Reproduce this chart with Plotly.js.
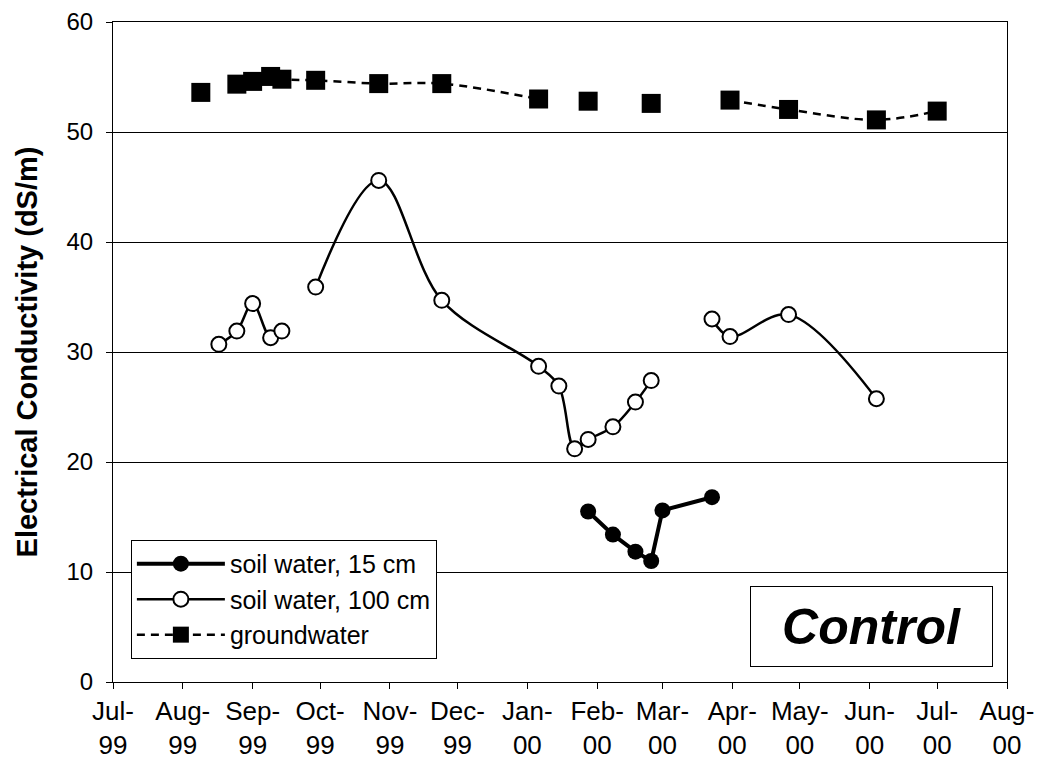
<!DOCTYPE html>
<html>
<head>
<meta charset="utf-8">
<script src="https://cdn.plot.ly/plotly-3.0.1.min.js"></script>
<style>
html,body{margin:0;padding:0;background:#fff;}
#chart{width:1043px;height:759px;}
</style>
</head>
<body>
<div id="chart"></div>
<script>
// ---- data ----
const monthTicks = ['1999-07-01','1999-08-01','1999-09-01','1999-10-01','1999-11-01','1999-12-01',
  '2000-01-01','2000-02-01','2000-03-01','2000-04-01','2000-05-01','2000-06-01','2000-07-01','2000-08-01'];
const monthLabels = ['Jul-<br>99','Aug-<br>99','Sep-<br>99','Oct-<br>99','Nov-<br>99','Dec-<br>99',
  'Jan-<br>00','Feb-<br>00','Mar-<br>00','Apr-<br>00','May-<br>00','Jun-<br>00','Jul-<br>00','Aug-<br>00'];
const yTicks = [0, 10, 20, 30, 40, 50, 60];

const seriesNames = ['soil water, 15 cm', 'soil water, 100 cm', 'groundwater'];

const soil15Dates  = ['2000-01-28','2000-02-08','2000-02-18','2000-02-25','2000-03-01','2000-03-23'];
const soil15Values = [15.5, 13.4, 11.85, 11.0, 15.6, 16.8];

// null = break in the line
const soil100Dates  = ['1999-08-17','1999-08-25','1999-09-01','1999-09-09','1999-09-14','1999-09-21',
  '1999-09-29','1999-10-27','1999-11-24','2000-01-06','2000-01-15','2000-01-22','2000-01-28',
  '2000-02-08','2000-02-18','2000-02-25','2000-03-01','2000-03-23','2000-03-31','2000-04-26','2000-06-04'];
const soil100Values = [30.7, 31.9, 34.4, 31.3, 31.9, null,
  35.9, 45.6, 34.7, 28.7, 26.9, 21.2, 22.05,
  23.2, 25.45, 27.4, null, 33.0, 31.4, 33.4, 25.75];

const groundDates  = ['1999-08-09','1999-08-17','1999-08-25','1999-09-01','1999-09-09','1999-09-14',
  '1999-09-29','1999-10-27','1999-11-24','2000-01-06','2000-01-15','2000-01-28','2000-02-08',
  '2000-02-25','2000-03-10','2000-03-31','2000-04-26','2000-06-04','2000-07-01'];
const groundValues = [53.6, null, 54.35, 54.6, 55.05, 54.8,
  54.7, 54.4, 54.4, 53.0, null, 52.8, null,
  52.6, null, 52.9, 52.05, 51.1, 51.9];

const yTitle = 'Electrical Conductivity (dS/m)';
const boxLabel = 'Control';

// ---- chart ----
const FONT = 'Liberation Sans, Arial, Helvetica, sans-serif';

const traces = [
  {
    x: soil15Dates, y: soil15Values, name: seriesNames[0],
    type: 'scatter', mode: 'lines+markers',
    line: {color: '#000', width: 4},
    marker: {symbol: 'circle', size: 16, color: '#000'}
  },
  {
    x: soil100Dates, y: soil100Values, name: seriesNames[1],
    type: 'scatter', mode: 'lines+markers', connectgaps: false,
    line: {color: '#000', width: 2.5, shape: 'spline', smoothing: 1},
    marker: {symbol: 'circle', size: 15, color: '#fff', line: {color: '#000', width: 2}}
  },
  {
    x: groundDates, y: groundValues, name: seriesNames[2],
    type: 'scatter', mode: 'lines+markers', connectgaps: false,
    line: {color: '#000', width: 2.5, dash: '8px,6px', shape: 'spline', smoothing: 1},
    marker: {symbol: 'square', size: 19, color: '#000'}
  }
];

const layout = {
  width: 1043, height: 759,
  margin: {l: 113, r: 36, t: 22, b: 77, pad: 0},
  paper_bgcolor: '#fff', plot_bgcolor: '#fff',
  font: {family: FONT, color: '#000', size: 24},
  showlegend: true,
  xaxis: {
    type: 'date',
    range: [monthTicks[0], monthTicks[monthTicks.length - 1]],
    tickmode: 'array', tickvals: monthTicks, ticktext: monthLabels,
    ticks: 'outside', ticklen: 6, tickwidth: 1, tickcolor: '#000',
    showline: true, linecolor: '#000', linewidth: 1, mirror: true,
    showgrid: false, zeroline: false,
    tickfont: {family: FONT, size: 26, color: '#000'},
    ticklabelstandoff: 0,
    fixedrange: true
  },
  yaxis: {
    range: [0, 60],
    tickmode: 'array', tickvals: yTicks,
    ticks: 'outside', ticklen: 6, tickwidth: 1, tickcolor: '#000',
    showline: true, linecolor: '#000', linewidth: 1, mirror: true,
    showgrid: true, gridcolor: '#000', gridwidth: 1, zeroline: false,
    tickfont: {family: FONT, size: 24, color: '#000'},
    ticklabelstandoff: 8,
    title: {text: yTitle, font: {family: FONT, size: 29, weight: 'bold', color: '#000'}, standoff: 20},
    fixedrange: true
  },
  legend: {
    x: 0.02, y: 0.035, xanchor: 'left', yanchor: 'bottom',
    bgcolor: '#fff', bordercolor: '#000', borderwidth: 1,
    font: {family: FONT, size: 25, color: '#000'},
    itemwidth: 88, tracegroupgap: 0
  },
  annotations: [{
    xref: 'paper', yref: 'paper', x: 0.8484, y: 0.0841,
    xanchor: 'center', yanchor: 'middle', showarrow: false,
    text: boxLabel,
    font: {family: FONT, size: 50, weight: 'bold', style: 'italic', color: '#000'},
    bordercolor: '#000', borderwidth: 1, borderpad: 0, bgcolor: '#fff',
    width: 241, height: 79
  }]
};

Plotly.newPlot('chart', traces, layout, {displayModeBar: false, staticPlot: true});
</script>
</body>
</html>
